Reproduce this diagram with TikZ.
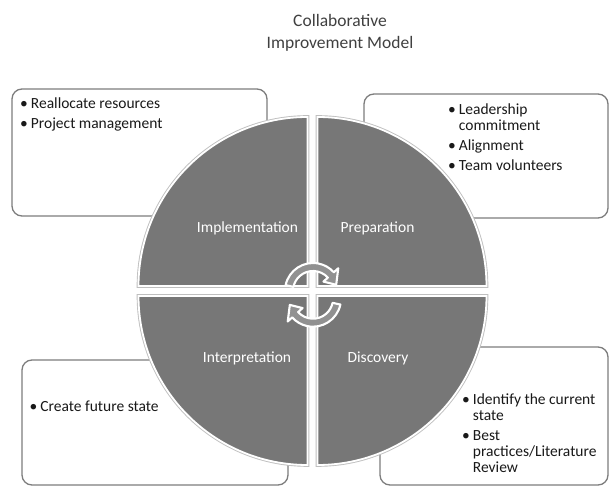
\documentclass[tikz,border=0pt]{standalone}
\usepackage{fontspec}
\setmainfont{Carlito}
\usetikzlibrary{calc}

\definecolor{qgray}{RGB}{119,119,119}
\definecolor{boxline}{RGB}{125,125,125}
\definecolor{titlegray}{RGB}{64,64,64}
\definecolor{textdark}{RGB}{25,25,25}
\definecolor{arrowfill}{RGB}{145,145,145}

\begin{document}
\begin{tikzpicture}[x=1pt,y=1pt,
  notebox/.style={draw=boxline, line width=1.3pt, rounded corners=10pt, fill=white},
  quadrant/.style={fill=qgray, draw=white, line width=1.8pt},
  quadrim/.style={draw=black!25, line width=3.6pt},
  quadlabel/.style={text=white, inner sep=0pt, font=\fontsize{15.5}{16}\selectfont},
  bullets/.style={anchor=base west, inner sep=0pt, text=textdark, font=\fontsize{15.5}{16}\selectfont},
  cycarrow/.style={fill=arrowfill, draw=white, line width=2.1pt, line join=round},
]
\useasboundingbox (0,0) rectangle (610,487);

% title
\node[anchor=north, inner sep=0pt, align=center, text=titlegray,
      font=\fontsize{17.5}{22}\selectfont] (title) at (340,473)
  {Collaborative\\Improvement Model};

% note boxes behind the wheel
\draw[notebox] (12,271) rectangle (267,398);
\draw[notebox] (364,269) rectangle (608,393);
\draw[notebox] (22,2) rectangle (288,127);
\draw[notebox] (380,2) rectangle (608,140);

% wheel of four quarter discs
\foreach \dx/\dy/\a in {-5/5/90, 5/5/0, 5/-5/-90, -5/-5/180}
  \path[quadrim] (312.5+\dx,196+\dy) -- ++(\a:169)
    arc[start angle=\a, end angle=\a+90, radius=169] -- cycle;
\foreach \dx/\dy/\a in {-5/5/90, 5/5/0, 5/-5/-90, -5/-5/180}
  \path[quadrant] (312.5+\dx,196+\dy) -- ++(\a:169)
    arc[start angle=\a, end angle=\a+90, radius=169] -- cycle;

\node[quadlabel] (impl)   at (247.5,259) {Implementation};
\node[quadlabel] (prep)   at (377.5,259) {Preparation};
\node[quadlabel] (interp) at (247,129)   {Interpretation};
\node[quadlabel] (disc)   at (378,129)   {Discovery};

% cycle arrows at the hub
\coordinate (ca) at (313,196);
\coordinate (cb) at (313,188.3);
\path[cycarrow] ($(ca)+(168:28)$) arc[start angle=168, end angle=42, radius=28]
  -- ($(ca)+(42:34)$) -- ($(ca)+(15:24)$) -- ($(ca)+(42:14)$)
  -- ($(ca)+(42:20)$) arc[start angle=42, end angle=168, radius=20] -- cycle;
\path[cycarrow] ($(cb)+(-12:28)$) arc[start angle=-12, end angle=-138, radius=28]
  -- ($(cb)+(-138:34)$) -- ($(cb)+(-165:24)$) -- ($(cb)+(-138:14)$)
  -- ($(cb)+(-138:20)$) arc[start angle=-138, end angle=-12, radius=20] -- cycle;

% bullet lists
\node[bullets] (impltext) at (20,378) {%
  \begin{tabular}[t]{@{}l@{\hspace{3pt}}l@{}}
  \textbullet & Reallocate resources\\[4pt]
  \textbullet & Project management
  \end{tabular}};
\node[bullets] (preptext) at (448,372) {%
  \begin{tabular}[t]{@{}l@{\hspace{3pt}}l@{}}
  \textbullet & Leadership\\
              & commitment\\[4pt]
  \textbullet & Alignment\\[4pt]
  \textbullet & Team volunteers
  \end{tabular}};
\node[bullets] (interptext) at (29.5,75) {%
  \begin{tabular}[t]{@{}l@{\hspace{3pt}}l@{}}
  \textbullet & Create future state
  \end{tabular}};
\node[bullets] (disctext) at (462,82) {%
  \begin{tabular}[t]{@{}l@{\hspace{3pt}}l@{}}
  \textbullet & Identify the current\\
              & state\\[4pt]
  \textbullet & Best\\
              & practices/Literature\\
              & Review
  \end{tabular}};
\end{tikzpicture}
\end{document}
